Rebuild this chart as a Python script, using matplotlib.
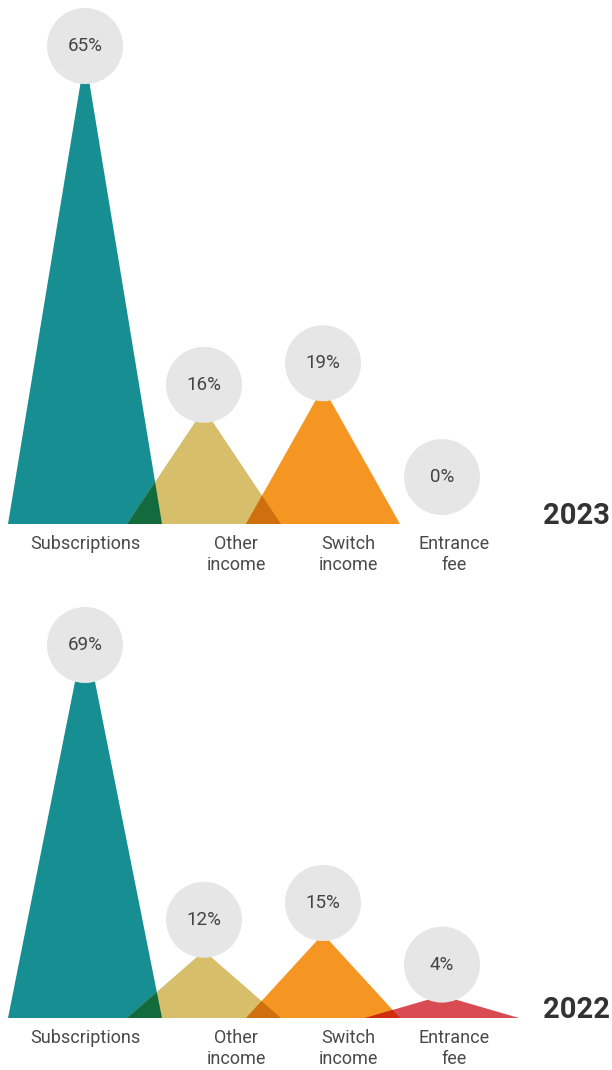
import numpy as np
import matplotlib
matplotlib.use('Agg')
from matplotlib import pyplot as plt
from matplotlib.colors import to_rgb
from matplotlib.patches import Polygon

# Данные
CATEGORIES = ['Subscriptions', 'Other\nincome', 'Switch\nincome', 'Entrance\nfee']
SHARE_2023 = [65, 16, 19, 0]
SHARE_2022 = [69, 12, 15, 4]
YEARS = ['2023', '2022']
COLORS = ['#178e91', '#d6be6a', '#f69622', '#d94b53']

# Раскладка (пиксели исходной картинки)
W, H = 612, 1070
STEP = 119          # расстояние между вершинами
HALF_BASE = 77      # полуширина основания треугольника
RADIUS = 38         # радиус кружка с подписью
LABEL_X = [85, 236, 348, 454]
PANELS = [
    # значения, год, базовая линия, верх, пикс. на процент, отступ кружка
    (SHARE_2023, YEARS[0], 524, 8, 7.2, 24),
    (SHARE_2022, YEARS[1], 1018, 607, 5.6, 31),
]

plt.rcParams['font.family'] = ['Roboto', 'DejaVu Sans']

fig = plt.figure(figsize=(W / 100, H / 100), dpi=100)

x0 = 85  # пиксель первой категории
hw = HALF_BASE / STEP


def multiply(c1, c2):
    a, b = np.array(to_rgb(c1)), np.array(to_rgb(c2))
    return tuple(a * b)


for values, year, base, top, scale, gap in PANELS:
    ax = fig.add_axes([0, (H - base) / H, 1, (base - top) / H])
    ax.set_xlim(-x0 / STEP, (W - x0) / STEP)
    ax.set_ylim(0, (base - top) / scale)
    ax.axis('off')

    # треугольники
    for i, v in enumerate(values):
        if v <= 0:
            continue
        ax.add_patch(Polygon([(i - hw, 0), (i, v), (i + hw, 0)],
                             closed=True, facecolor=COLORS[i], edgecolor='none', zorder=1))

    # перекрытия соседних треугольников (режим multiply)
    for i in range(len(values) - 1):
        v1, v2 = values[i], values[i + 1]
        if v1 <= 0 or v2 <= 0:
            continue
        xi = (v1 * (i + hw) + v2 * (i + 1 - hw)) / (v1 + v2)
        yi = v1 * (i + hw - xi) / hw
        ax.add_patch(Polygon([(i + 1 - hw, 0), (xi, yi), (i + hw, 0)],
                             closed=True, facecolor=multiply(COLORS[i], COLORS[i + 1]),
                             edgecolor='none', zorder=2))

    # кружки с процентами
    cap = (base - top - RADIUS) / scale
    low = (RADIUS + 9) / scale
    for i, v in enumerate(values):
        yc = min(max(v + gap / scale, low), cap)
        ax.scatter([i], [yc], s=(2 * RADIUS * 0.72) ** 2, color='#e5e6e5',
                   edgecolors='none', zorder=3, clip_on=False)
        ax.text(i, yc, f'{v}%', ha='center', va='center', fontsize=13.5,
                color='#444444', zorder=4)

    # подписи категорий
    for lx, name in zip(LABEL_X, CATEGORIES):
        ax.text((lx - x0) / STEP, -11 / scale, name, ha='center', va='top',
                fontsize=13, color='#4a4a4a', linespacing=1.25)

    # год
    ax.text(610 / W, 0, year, transform=ax.get_yaxis_transform(), ha='right',
            va='baseline', fontsize=21, fontweight='bold', color='#333333')

plt.savefig('out.png', dpi=100)
